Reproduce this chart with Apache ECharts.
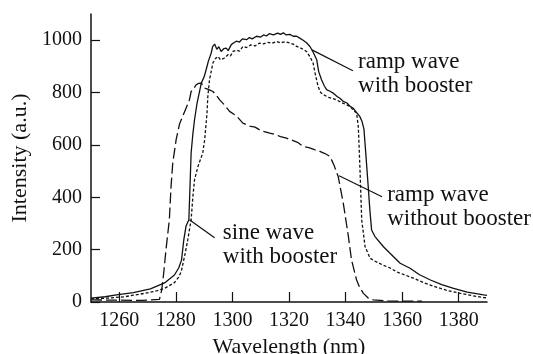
<!DOCTYPE html>
<html>
<head>
<meta charset="utf-8">
<script src="https://cdn.jsdelivr.net/npm/echarts@6/dist/echarts.min.js"></script>
<style>html,body{margin:0;padding:0;background:#fff}#c{width:533px;height:354px}</style>
</head>
<body>
<div id="c"></div>
<script>
// ---- data (wavelength nm, intensity a.u.) ----
var rampWithBooster = [[1250,15],[1255,20],[1259,27],[1265,36],[1271,50],[1276,73],[1279.5,103],[1281,130],[1282,160],[1282.8,237],[1283.6,290],[1284.6,314],[1285.4,570],[1286,640],[1286.6,696],[1287.5,760],[1289,836],[1290,860],[1290.7,887],[1291.5,920],[1292.5,951],[1293,975],[1293.7,985],[1294.5,965],[1295.2,975],[1296,957],[1297,968],[1297.8,970],[1298.5,960],[1299.6,983],[1300.5,990],[1301.4,996],[1302.5,993],[1303.5,1005],[1305,1002],[1306,1010],[1307,1005],[1308.5,1015],[1310,1012],[1311,1020],[1312,1016],[1313,1025],[1314.5,1020],[1316,1027],[1317,1022],[1318,1028],[1319,1020],[1320.3,1022],[1321.5,1015],[1322.7,1015],[1323.8,1008],[1325,1000],[1326.2,990],[1327.4,976],[1328.5,955],[1329.8,925],[1330.5,880],[1331.5,849],[1332.5,825],[1333.3,811],[1334.5,805],[1335.6,798],[1337,785],[1338,778],[1339.2,766],[1340.5,760],[1341.5,748],[1342.7,740],[1343.8,725],[1345,709],[1345.8,690],[1346.5,660],[1347.2,560],[1348,441],[1348.6,350],[1349.2,275],[1350.4,250],[1353.4,211],[1355.7,186],[1359.3,148],[1362.8,129],[1366,105],[1370,84],[1374,66],[1378.2,52],[1383,38],[1388.8,27],[1390,25]];

var sineWithBooster = [[1250,12],[1256,15],[1261.8,20],[1265,26],[1268.9,33],[1273,42],[1276,52],[1279.5,74],[1281,95],[1281.9,116],[1283.3,186],[1284.2,237],[1285.4,314],[1286,400],[1286.6,467],[1287.8,517],[1289.5,569],[1290.2,620],[1290.5,658],[1291,720],[1291.3,785],[1291.9,849],[1293.1,913],[1294,930],[1294.9,938],[1295.8,925],[1297.2,932],[1298.5,945],[1299.3,940],[1300.2,957],[1301.5,962],[1302.5,958],[1303.7,976],[1305,972],[1306.5,982],[1308,978],[1309.6,989],[1311,986],[1312.5,992],[1314,988],[1315.6,995],[1317,990],[1318.5,994],[1320.3,989],[1321.5,985],[1322.7,976],[1324.5,968],[1326.2,957],[1327.5,935],[1328.5,913],[1329.5,860],[1330.3,823],[1331.2,800],[1332.1,792],[1334,782],[1336.8,772],[1338.5,762],[1340,755],[1341.6,747],[1342.8,732],[1343.9,722],[1344.5,670],[1345.1,505],[1345.7,314],[1346.9,211],[1348.7,167],[1350,158],[1353.4,140],[1355.7,130],[1358.1,115],[1364,91],[1368,72],[1372.3,56],[1376,44],[1380.6,33],[1385,24],[1388.8,17],[1390,16]];

var rampWithoutBooster = [[1250,8],[1260,7],[1268,6],[1274.2,10],[1275,46],[1275.7,110],[1276.5,199],[1277.7,314],[1278.3,441],[1278.9,530],[1280.1,620],[1281.3,680],[1281.9,696],[1282.4,709],[1283.6,740],[1284.8,772],[1285.4,804],[1286.3,815],[1287.2,830],[1288,835],[1289,836],[1290.1,817],[1291.5,812],[1293.1,804],[1294.3,790],[1295.5,772],[1297,755],[1299,728],[1301.5,710],[1303.7,683],[1306.1,672],[1308,668],[1310,655],[1313.2,645],[1315,640],[1317,632],[1319.1,626],[1321,618],[1323,610],[1325,594],[1327,590],[1329,582],[1330.9,575],[1332.5,568],[1334.5,556],[1336,520],[1337.4,479],[1339.2,377],[1341,250],[1342.1,161],[1343.9,84],[1345,55],[1346.3,33],[1348,15],[1349.8,8],[1355,4],[1360,3],[1367,3]];

var xTicks = [1260,1280,1300,1320,1340,1360,1380];
var yTicks = [0,200,400,600,800,1000];

// annotation leader lines and labels (data coordinates)
var labelRampWith = {text: 'ramp wave\nwith booster', line: [[1328.1,963],[1342.6,883]], at: [1344.4,872]};
var labelRampWithout = {text: 'ramp wave\nwithout booster', line: [[1337.7,482],[1352.9,402]], at: [1354.7,363]};
var labelSine = {text: 'sine wave\nwith booster', line: [[1284.8,314],[1293.7,245]], at: [1296.6,216]};

var FONT = 'Liberation Serif';
var INK = '#111';

function ann(a) {
  return {
    markLine: {
      silent: true, symbol: ['none','none'], animation: false,
      lineStyle: {color: INK, width: 1.2, type: 'solid'},
      label: {show: false},
      data: [[{coord: a.line[0]}, {coord: a.line[1]}]]
    },
    markPoint: {
      silent: true, symbol: 'circle', symbolSize: 0, animation: false,
      label: {show: true, position: 'right', distance: 0, formatter: a.text,
        fontFamily: FONT, fontSize: 23, lineHeight: 24, color: INK, align: 'left', verticalAlign: 'middle'},
      data: [{coord: a.at}]
    }
  };
}

function mk(name, data, type, a) {
  var s = {
    name: name, type: 'line', data: data, showSymbol: false, symbol: 'none',
    animation: false, smooth: false,
    lineStyle: {color: INK, width: 1.3, type: type}
  };
  var extra = ann(a);
  s.markLine = extra.markLine; s.markPoint = extra.markPoint;
  return s;
}

function plain(v) { return String(v); }

var chart = echarts.init(document.getElementById('c'), null, {renderer: 'canvas'});
chart.setOption({
  backgroundColor: '#fff',
  animation: false,
  grid: {left: 91, top: 14, right: 46, bottom: 52, containLabel: false, outerBoundsMode: 'none'},
  xAxis: {
    type: 'value', min: 1250, max: 1390,
    name: 'Wavelength (nm)', nameLocation: 'middle', nameGap: 28,
    nameTextStyle: {fontFamily: FONT, fontSize: 22, color: INK},
    axisLine: {show: true, lineStyle: {color: INK, width: 1.5}},
    axisTick: {show: true, inside: true, length: 10, customValues: xTicks, lineStyle: {color: INK, width: 1.2}},
    axisLabel: {customValues: xTicks, formatter: plain, margin: 9, fontFamily: FONT, fontSize: 20, color: INK},
    splitLine: {show: false}
  },
  yAxis: {
    type: 'value', min: 0, max: 1100,
    name: 'Intensity (a.u.)', nameLocation: 'middle', nameGap: 52,
    nameTextStyle: {fontFamily: FONT, fontSize: 22, color: INK},
    axisLine: {show: true, lineStyle: {color: INK, width: 1.5}},
    axisTick: {show: true, inside: true, length: 9, customValues: yTicks, lineStyle: {color: INK, width: 1.2}},
    axisLabel: {customValues: yTicks, formatter: plain, margin: 9, fontFamily: FONT, fontSize: 20, color: INK},
    splitLine: {show: false}
  },
  series: [
    mk('ramp wave with booster', rampWithBooster, 'solid', labelRampWith),
    mk('sine wave with booster', sineWithBooster, [3, 2], labelSine),
    mk('ramp wave without booster', rampWithoutBooster, [11, 4], labelRampWithout)
  ]
});
</script>
</body>
</html>
